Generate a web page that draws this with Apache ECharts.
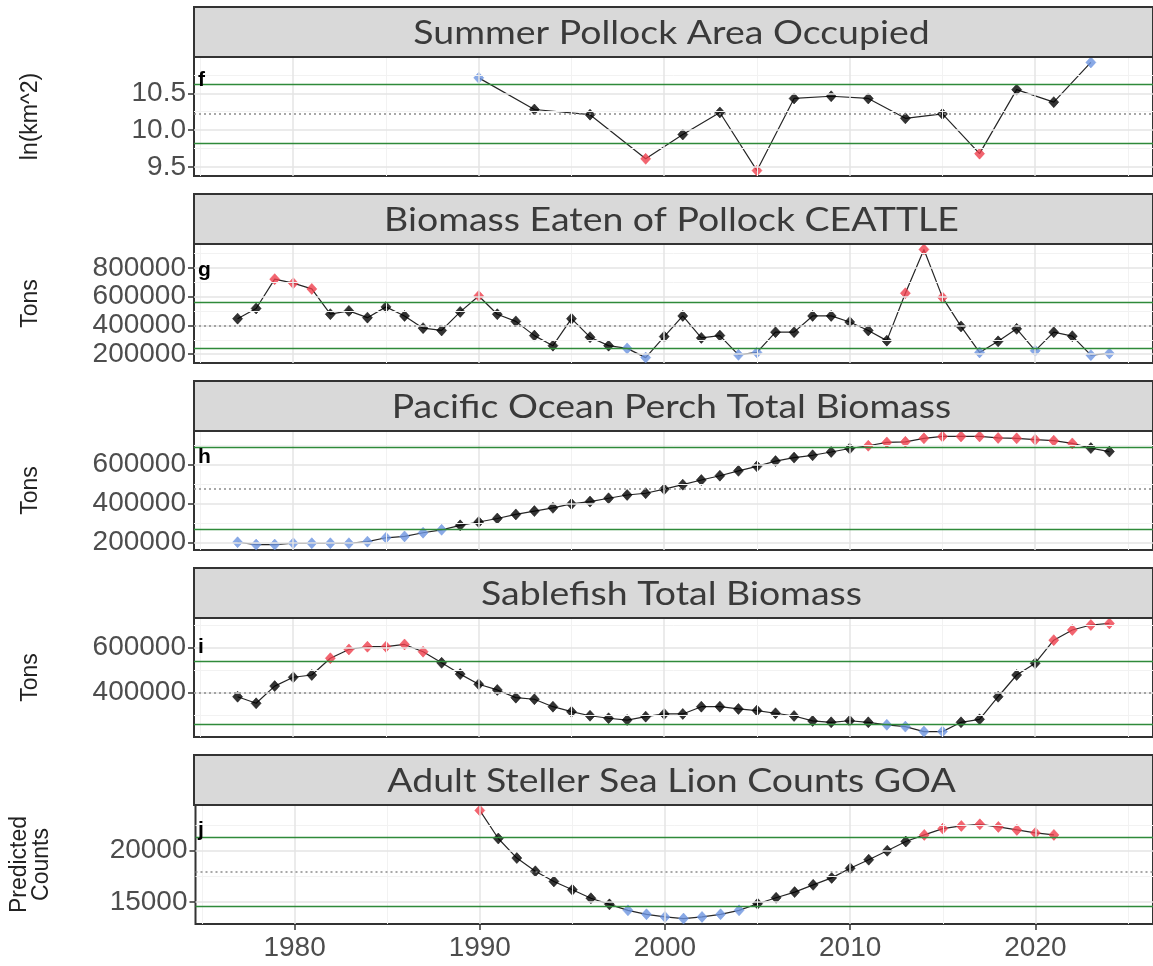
<!DOCTYPE html>
<html><head><meta charset="utf-8">
<script src="https://cdn.jsdelivr.net/npm/echarts@6/dist/echarts.min.js"></script>
<style>html,body{margin:0;padding:0;background:#fff}#c{width:1153px;height:966px}</style>
</head><body><div id="c"></div>
<script>
// ---------- DATA ----------
const fullYears = [1977,1978,1979,1980,1981,1982,1983,1984,1985,1986,1987,1988,1989,1990,1991,1992,1993,1994,1995,1996,1997,1998,1999,2000,2001,2002,2003,2004,2005,2006,2007,2008,2009,2010,2011,2012,2013,2014,2015,2016,2017,2018,2019,2020,2021,2022,2023,2024];

const areaYears  = [1990,1993,1996,1999,2001,2003,2005,2007,2009,2011,2013,2015,2017,2019,2021,2023];
const areaValues = [10.71,10.28,10.21,9.61,9.94,10.24,9.45,10.43,10.46,10.43,10.16,10.22,9.68,10.55,10.38,10.92];
const areaMean = 10.22, areaSd = 0.40;

const eatenValues = [447000,518000,722000,694000,654000,478000,501000,454000,529000,466000,381000,365000,494000,605000,478000,428000,329000,259000,447000,318000,259000,240000,176000,322000,466000,313000,329000,195000,212000,353000,353000,466000,466000,424000,365000,294000,624000,929000,595000,393000,212000,289000,376000,224000,353000,325000,193000,205000];
const eatenMean = 400000, eatenSd = 158000;

const popValues = [200000,188000,188000,195000,195000,195000,195000,203000,223000,230000,249000,264000,287000,304000,322000,343000,360000,377000,397000,409000,426000,443000,452000,473000,496000,520000,542000,567000,590000,617000,635000,647000,664000,682000,696000,713000,716000,734000,744000,744000,744000,736000,734000,727000,722000,708000,684000,666000];
const popMean = 477000, popSd = 210000;

const sableValues = [382000,353000,429000,468000,478000,552000,591000,603000,603000,613000,581000,532000,482000,437000,412000,378000,371000,338000,316000,298000,287000,279000,294000,306000,306000,338000,338000,328000,321000,309000,297000,275000,269000,276000,269000,258000,250000,228000,228000,269000,282000,382000,478000,530000,632000,677000,699000,706000];
const sableMean = 400000, sableSd = 138000;

const sslYears  = [1990,1991,1992,1993,1994,1995,1996,1997,1998,1999,2000,2001,2002,2003,2004,2005,2006,2007,2008,2009,2010,2011,2012,2013,2014,2015,2016,2017,2018,2019,2020,2021];
const sslValues = [23936,21194,19290,18000,17010,16200,15370,14774,14194,13806,13548,13387,13548,13806,14194,14839,15419,15968,16677,17355,18290,19129,20000,20903,21548,22161,22419,22581,22323,22032,21742,21548];
const sslMean = 17950, sslSd = 3390;

// tick labels / grid values
const xTicks = [1980,1990,2000,2010,2020];
const xMinor = [1975,1985,1995,2005,2015,2025];
const areaTicks = [9.5,10.0,10.5],            areaMinor = [9.75,10.25,10.75];
const eatenTicks = [200000,400000,600000,800000], eatenMinor = [300000,500000,700000,900000];
const popTicks = [200000,400000,600000],     popMinor = [300000,500000,700000];
const sableTicks = [400000,600000],          sableMinor = [300000,500000,700000];
const sslTicks = [15000,20000],              sslMinor = [17500,22500];

const titles = ['Summer Pollock Area Occupied','Biomass Eaten of Pollock CEATTLE','Pacific Ocean Perch Total Biomass','Sablefish Total Biomass','Adult Steller Sea Lion Counts GOA'];
const tags = ['f','g','h','i','j'];
const yNames = ['ln(km^2)','Tons','Tons','Tons','Predicted\nCounts'];

// ---------- STYLE / LAYOUT ----------
const RED = '#ef3f4c', BLUE = '#6b94e0', GREEN = '#2f8a3a';
const LEFT = 194, WIDTH = 959, TOP0 = 57, STEP = 187, PANEL_H = 119, STRIP_H = 50;
const TICK_FONT = 28;
const SANS = '"Liberation Sans", Arial, sans-serif';

const panels = [
  {years: areaYears, values: areaValues, mean: areaMean, sd: areaSd, ticks: areaTicks, minor: areaMinor, hi: BLUE, lo: RED, fmt: v => v.toFixed(1), gap: 152},
  {years: fullYears, values: eatenValues, mean: eatenMean, sd: eatenSd, ticks: eatenTicks, minor: eatenMinor, hi: RED, lo: BLUE, fmt: v => String(v), gap: 152},
  {years: fullYears, values: popValues, mean: popMean, sd: popSd, ticks: popTicks, minor: popMinor, hi: RED, lo: BLUE, fmt: v => String(v), gap: 152},
  {years: fullYears, values: sableValues, mean: sableMean, sd: sableSd, ticks: sableTicks, minor: sableMinor, hi: RED, lo: BLUE, fmt: v => String(v), gap: 152},
  {years: sslYears, values: sslValues, mean: sslMean, sd: sslSd, ticks: sslTicks, minor: sslMinor, hi: RED, lo: BLUE, fmt: v => String(v), gap: 143}
];

const yrMin = Math.min(...fullYears), yrMax = Math.max(...fullYears);
const xMin = yrMin - 0.05 * (yrMax - yrMin), xMax = yrMax + 0.05 * (yrMax - yrMin);

const grid = [], xAxis = [], yAxis = [], series = [], graphic = [];
panels.forEach((p, i) => {
  const top = TOP0 + STEP * i;
  const last = i === panels.length - 1;
  grid.push({left: LEFT, top: top, width: WIDTH, height: PANEL_H, show: true, borderColor: '#333', borderWidth: 2, backgroundColor: '#fff'});
  xAxis.push({
    gridIndex: i, type: 'value', min: xMin, max: xMax,
    axisLine: {show: false}, splitLine: {show: false},
    axisTick: {show: last, customValues: xTicks, length: 6, lineStyle: {color: '#333', width: 1.5}},
    axisLabel: {show: last, customValues: xTicks, formatter: v => String(v), fontSize: TICK_FONT, color: '#4d4d4d', margin: 10, fontFamily: SANS, hideOverlap: false}
  });
  const dmin = Math.min(...p.values), dmax = Math.max(...p.values), r = dmax - dmin;
  yAxis.push({
    gridIndex: i, type: 'value', min: dmin - 0.05 * r, max: dmax + 0.05 * r,
    axisLine: {show: false}, splitLine: {show: false},
    axisTick: {show: true, customValues: p.ticks, length: 6, lineStyle: {color: '#333', width: 1.5}},
    axisLabel: {customValues: p.ticks, formatter: p.fmt, fontSize: TICK_FONT, color: '#4d4d4d', margin: 8, fontFamily: SANS,
      hideOverlap: false, showMinLabel: true, showMaxLabel: true},
    name: yNames[i], nameLocation: 'middle', nameRotate: 90, nameGap: p.gap,
    nameTextStyle: {fontSize: 23, color: '#222', fontFamily: SANS, lineHeight: 22}
  });
  const lines = [];
  xMinor.forEach(v => lines.push({xAxis: v, lineStyle: {color: '#f2f2f2', width: 1, type: 'solid'}}));
  p.minor.forEach(v => lines.push({yAxis: v, lineStyle: {color: '#f2f2f2', width: 1, type: 'solid'}}));
  xTicks.forEach(v => lines.push({xAxis: v, lineStyle: {color: '#e5e5e5', width: 1.5, type: 'solid'}}));
  p.ticks.forEach(v => lines.push({yAxis: v, lineStyle: {color: '#e5e5e5', width: 1.5, type: 'solid'}}));
  lines.push({yAxis: p.mean + p.sd, lineStyle: {color: GREEN, width: 1.3, type: 'solid'}});
  lines.push({yAxis: p.mean - p.sd, lineStyle: {color: GREEN, width: 1.3, type: 'solid'}});
  lines.push({yAxis: p.mean, lineStyle: {color: '#8c8c8c', width: 1.5, type: [2, 3]}});
  series.push({
    type: 'line', xAxisIndex: i, yAxisIndex: i, data: [], z: 1, silent: true,
    markLine: {silent: true, symbol: ['none', 'none'], label: {show: false}, animation: false, data: lines}
  });
  const hiT = p.mean + p.sd, loT = p.mean - p.sd;
  series.push({
    type: 'line', xAxisIndex: i, yAxisIndex: i, z: 3, silent: true,
    data: p.years.map((y, k) => [y, p.values[k]]), showSymbol: false, symbol: 'none',
    lineStyle: {color: '#262626', width: 1.2}, emphasis: {disabled: true}
  });
  series.push({
    type: 'scatter', xAxisIndex: i, yAxisIndex: i, z: 4, silent: true,
    symbol: 'diamond', symbolSize: [10, 11],
    data: p.years.map((y, k) => {
      const v = p.values[k];
      const c = v > hiT ? p.hi : (v < loT ? p.lo : '#000');
      return {value: [y, v], itemStyle: {color: c, borderColor: c, borderWidth: 0.6}};
    }),
    emphasis: {disabled: true}
  });
  graphic.push({type: 'rect', z: 10, shape: {x: LEFT, y: top - STRIP_H, width: WIDTH, height: STRIP_H},
    style: {fill: '#d9d9d9', stroke: '#333', lineWidth: 2}});
  graphic.push({type: 'text', z: 11, x: LEFT + WIDTH / 2 - 2, y: top - STRIP_H / 2 + 2, scaleX: 1.17,
    style: {text: titles[i], fill: '#3a3a3a', font: '32px Lato, "Open Sans", sans-serif', align: 'center', verticalAlign: 'middle', textAlign: 'center', textVerticalAlign: 'middle'}});
  graphic.push({type: 'text', z: 11, x: LEFT + 4, y: [80, 270, 457, 647, 830][i],
    style: {text: tags[i], fill: '#000', font: 'bold 21px "Liberation Sans", Arial, sans-serif', align: 'left', verticalAlign: 'middle', textAlign: 'left', textVerticalAlign: 'middle'}});
});

const chart = echarts.init(document.getElementById('c'), null, {renderer: 'canvas'});
chart.setOption({animation: false, backgroundColor: '#fff', grid, xAxis, yAxis, series, graphic});
</script>
</body></html>
